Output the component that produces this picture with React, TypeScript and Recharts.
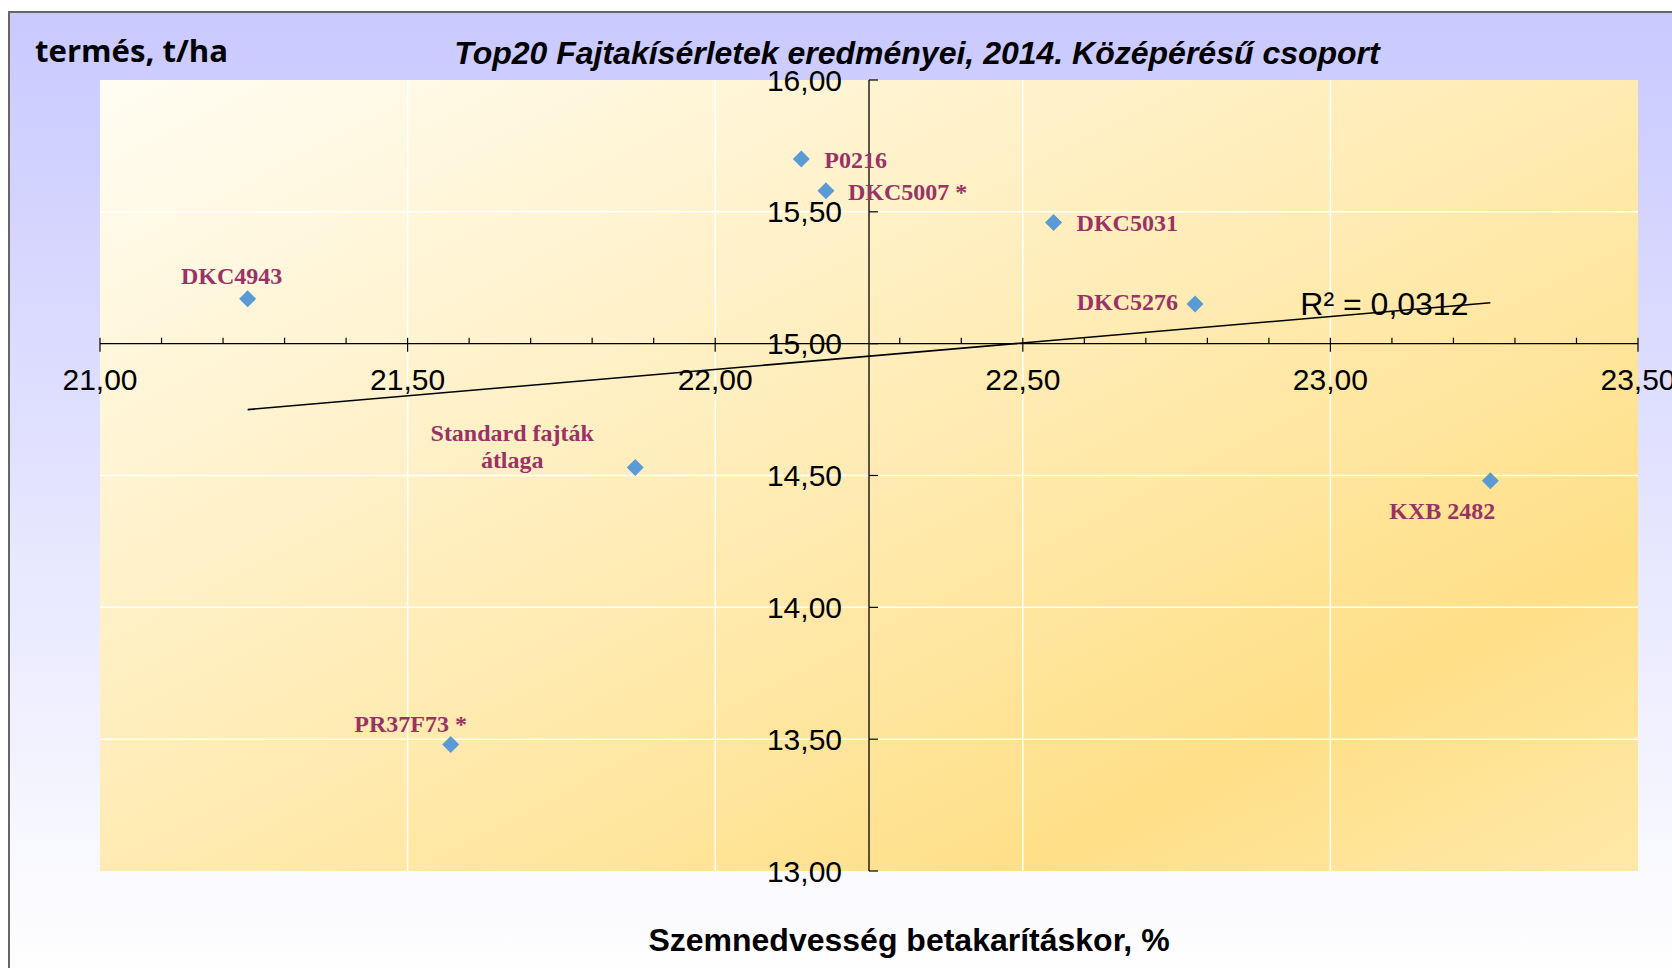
import React from "react";
import { ScatterChart, Scatter, XAxis, YAxis, ReferenceLine, CartesianGrid } from "recharts";

// values
const varieties = [
  "P0216",
  "DKC5007 *",
  "DKC5031",
  "DKC4943",
  "DKC5276",
  "Standard fajták\nátlaga",
  "KXB 2482",
  "PR37F73 *",
];
const moisture = [22.14, 22.18, 22.55, 21.24, 22.78, 21.87, 23.26, 21.57];
const yieldTHa = [15.7, 15.58, 15.46, 15.17, 15.15, 14.53, 14.48, 13.48];

const xTicks = [
  21, 21.1, 21.2, 21.3, 21.4, 21.5, 21.6, 21.7, 21.8, 21.9, 22, 22.1, 22.2, 22.3, 22.4, 22.5,
  22.6, 22.7, 22.8, 22.9, 23, 23.1, 23.2, 23.3, 23.4, 23.5,
];
const yTicks = [13, 13.5, 14, 14.5, 15, 15.5, 16];
const xGrid = [21.5, 22, 22.5, 23];
const yGrid = [13.5, 14, 14.5, 15.5];
const crossX = 22.25;
const crossY = 15;

const trendX = [21.24, 23.26];
const trendY = [14.75, 15.155];
const r2Text = "R² = 0,0312";

const title = "Top20 Fajtakísérletek eredményei, 2014. Középérésű csoport";
const yTitle = "termés, t/ha";
const xTitle = "Szemnedvesség betakarításkor, %";

const points = varieties.map((name, i) => ({ name, x: moisture[i], y: yieldTHa[i] }));
const trend = trendX.map((x, i) => ({ x, y: trendY[i] }));

// label placement relative to the marker
const labelPos: Record<string, { dx: number; dy: number; anchor: "start" | "middle" | "end" }> = {
  P0216: { dx: 23, dy: 1, anchor: "start" },
  "DKC5007 *": { dx: 22, dy: 1, anchor: "start" },
  DKC5031: { dx: 23, dy: 1, anchor: "start" },
  DKC4943: { dx: -16, dy: -23, anchor: "middle" },
  DKC5276: { dx: -17, dy: -2, anchor: "end" },
  "Standard fajták\nátlaga": { dx: -123, dy: -35, anchor: "middle" },
  "KXB 2482": { dx: -48, dy: 30, anchor: "middle" },
  "PR37F73 *": { dx: -40, dy: -20, anchor: "middle" },
};

const W = 1672;
const H = 968;
const PLOT = { left: 100, top: 80, width: 1538, height: 791 };
const X_MIN = 21;
const X_MAX = 23.5;
const Y_MIN = 13;
const Y_MAX = 16;
const AX_Y = PLOT.top + ((Y_MAX - crossY) / (Y_MAX - Y_MIN)) * PLOT.height;
const AX_X = PLOT.left + ((crossX - X_MIN) / (X_MAX - X_MIN)) * PLOT.width;

const fmt = (v: number) => v.toFixed(2).replace(".", ",");
const isMajor = (v: number) => Math.abs(v * 2 - Math.round(v * 2)) < 1e-6;

const sans = "'Liberation Sans', Arial, sans-serif";
const serif = "'Liberation Serif', 'Times New Roman', serif";

const XTick = (props: any) => {
  const { x, payload } = props;
  const v = payload.value as number;
  const major = isMajor(v);
  return (
    <g>
      <line x1={x} x2={x} y1={AX_Y - 6} y2={major ? AX_Y + 8 : AX_Y} stroke="#000" strokeWidth={1.2} />
      {major && (
        <text x={x} y={AX_Y + 36} textAnchor="middle" dominantBaseline="central" fontFamily={sans} fontSize={30} fill="#000">
          {fmt(v)}
        </text>
      )}
    </g>
  );
};

const YTick = (props: any) => {
  const { y, payload } = props;
  const v = payload.value as number;
  return (
    <g>
      <line x1={AX_X} x2={AX_X + 9} y1={y} y2={y} stroke="#000" strokeWidth={1.2} />
      <text x={AX_X - 27} y={y} textAnchor="end" dominantBaseline="central" fontFamily={sans} fontSize={30} fill="#000">
        {fmt(v)}
      </text>
    </g>
  );
};

const renderPoint = (props: any) => {
  const { cx, cy, payload } = props;
  const s = 8.5;
  const pos = labelPos[payload.name];
  const lines = String(payload.name).split("\n");
  return (
    <g>
      <polygon
        points={`${cx},${cy - s} ${cx + s},${cy} ${cx},${cy + s} ${cx - s},${cy}`}
        fill="#5B9BD5"
      />
      {lines.map((t, i) => (
        <text
          key={i}
          x={cx + pos.dx}
          y={cy + pos.dy + i * 27.5}
          textAnchor={pos.anchor}
          dominantBaseline="central"
          fontFamily={serif}
          fontWeight="bold"
          fontSize={24}
          fill="#993366"
        >
          {t}
        </text>
      ))}
    </g>
  );
};

const renderTrendEnd = (props: any) => {
  const { cx, cy, payload } = props;
  if (payload.x !== trendX[trendX.length - 1]) return <g />;
  return (
    <text x={cx - 190} y={cy + 1} dominantBaseline="central" fontFamily={sans} fontSize={32} fill="#000">
      {r2Text}
    </text>
  );
};

export default function App() {
  return (
    <div style={{ position: "relative", width: W, height: H, overflow: "hidden", background: "#fff" }}>
      <style>{"body{margin:0}"}</style>
      <svg width={0} height={0} style={{ position: "absolute" }}>
        <defs>
          <linearGradient id="plotGrad" x1="0" y1="0" x2="1" y2="1">
            <stop offset="0" stopColor="#FFFDF3" />
            <stop offset="0.5" stopColor="#FFEBB2" />
            <stop offset="0.8" stopColor="#FFE088" />
            <stop offset="1" stopColor="#FFE8A8" />
          </linearGradient>
        </defs>
      </svg>
      <div
        style={{
          position: "absolute",
          left: 8,
          top: 11,
          width: W,
          height: H,
          border: "2px solid #666",
          background: "linear-gradient(180deg, #C9C9FF 0%, #FFFFFF 100%)",
        }}
      />
      <div style={{ position: "absolute", left: 0, top: 0 }}>
        <ScatterChart width={W} height={H} margin={{ top: 80, right: 34, left: 40, bottom: 67 }}>
          <CartesianGrid horizontal={false} vertical={false} fill="url(#plotGrad)" fillOpacity={1} stroke="none" />
          {xGrid.map((v) => (
            <ReferenceLine key={`gx${v}`} x={v} stroke="#fff" strokeWidth={1.5} />
          ))}
          {yGrid.map((v) => (
            <ReferenceLine key={`gy${v}`} y={v} stroke="#fff" strokeWidth={1.5} />
          ))}
          <ReferenceLine y={crossY} stroke="#000" strokeWidth={1.3} />
          <ReferenceLine x={crossX} stroke="#000" strokeWidth={1.3} />
          <XAxis
            type="number"
            dataKey="x"
            domain={[X_MIN, X_MAX]}
            ticks={xTicks}
            interval={0}
            allowDataOverflow
            axisLine={false}
            tickLine={false}
            tick={XTick}
            height={30}
          />
          <YAxis
            type="number"
            dataKey="y"
            domain={[Y_MIN, Y_MAX]}
            ticks={yTicks}
            interval={0}
            allowDataOverflow
            axisLine={false}
            tickLine={false}
            tick={YTick}
            width={60}
          />
          <Scatter
            data={trend}
            line={{ stroke: "#000", strokeWidth: 1.6 }}
            shape={renderTrendEnd}
            isAnimationActive={false}
            legendType="none"
          />
          <Scatter data={points} shape={renderPoint} isAnimationActive={false} legendType="none" />
        </ScatterChart>
      </div>
      <svg width={W} height={H} style={{ position: "absolute", left: 0, top: 0, pointerEvents: "none" }}>
        <text x={35} y={50} dominantBaseline="central" fontFamily="'Open Sans', sans-serif" fontWeight="bold" fontSize={31} textLength={193} lengthAdjust="spacingAndGlyphs" fill="#000">
          {yTitle}
        </text>
        <text x={917} y={53} textAnchor="middle" dominantBaseline="central" fontFamily={sans} fontWeight="bold" fontStyle="italic" fontSize={32} fill="#000">
          {title}
        </text>
        <text x={909} y={940} textAnchor="middle" dominantBaseline="central" fontFamily={sans} fontWeight="bold" fontSize={32} fill="#000">
          {xTitle}
        </text>
      </svg>
    </div>
  );
}
